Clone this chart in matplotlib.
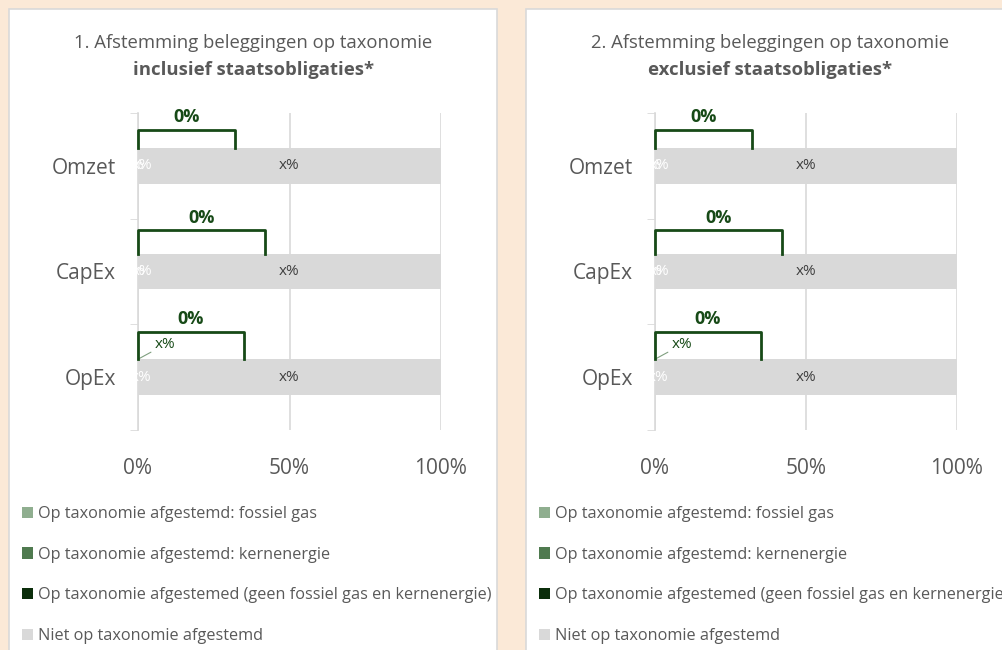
import matplotlib.pyplot as plt
from matplotlib.patches import Rectangle

# Data (values are placeholders "x%" in the source)
categories = ['Omzet', 'CapEx', 'OpEx']
fossil_gas = [0, 0, 0]
nuclear = [0, 0, 0]
aligned = [0, 0, 0]
not_aligned = [100, 100, 100]
bracket_labels = ['0%', '0%', '0%']
bracket_span = [32, 42, 35]
value_text = 'x%'
series_names = ['Op taxonomie afgestemd: fossiel gas',
                'Op taxonomie afgestemd: kernenergie',
                'Op taxonomie afgestemed (geen fossiel gas en kernenergie)',
                'Niet op taxonomie afgestemd']
titles = [('1. Afstemming beleggingen op taxonomie', 'inclusief staatsobligaties*'),
          ('2. Afstemming beleggingen op taxonomie', 'exclusief staatsobligaties*')]
xticks = [0, 50, 100]
xticklabels = ['0%', '50%', '100%']

colors = ['#8fae8f', '#4f7a4f', '#0b2e0b', '#d9d9d9']
bracket_color = '#174a17'
text_gray = '#595959'

plt.rcParams['font.family'] = ['Open Sans', 'DejaVu Sans']

W, H = 1003, 650
fig = plt.figure(figsize=(W / 100, H / 100), dpi=100)
fig.patch.set_facecolor('#fbe9d7')


def fx(px):
    return px / W


def fy(py):
    return 1 - py / H


# panel boxes: box left/right px, axis 0% / 100% px
panels = [(9, 497, 138, 441), (526, 1020, 655, 957)]
bar_h = 0.34
lift = [0.17, 0.22, 0.26]

for p, (bl, br, al, ar) in enumerate(panels):
    fig.patches.append(Rectangle((fx(bl), fy(660)), fx(br - bl), (660 - 9) / H,
                                 transform=fig.transFigure, facecolor='white',
                                 edgecolor='#d9d9d9', linewidth=1.2, zorder=-5))
    t1, t2 = titles[p]
    cx = fx((al + ar) / 2 - 36)
    fig.text(cx, fy(43), t1, ha='center', va='center', fontsize=13.3, color=text_gray)
    fig.text(cx, fy(70), t2, ha='center', va='center', fontsize=13.3, color=text_gray,
             fontweight='bold')

    ax = fig.add_axes([fx(al), fy(430), fx(ar - al), (430 - 113) / H])
    ax.set_facecolor('none')
    y = list(range(len(categories)))
    left = [0] * len(categories)
    handles = []
    for vals, col, name in zip([fossil_gas, nuclear, aligned, not_aligned], colors, series_names):
        b = ax.barh(y, vals, left=left, height=bar_h, color=col, label=name, zorder=2)
        handles.append(b)
        for i in y:
            xc = left[i] + vals[i] / 2
            if vals[i] > 0:
                ax.text(xc, i, value_text, ha='center', va='center', fontsize=11,
                        color='#404040', zorder=4)
        left = [a + v for a, v in zip(left, vals)]

    # labels of the zero-width segments, drawn in white at the bar start
    for i in y:
        offs = [-3, 3] if i == 0 else ([-2, 3] if i == 1 else [2])
        for o in offs:
            ax.annotate(value_text, (0, i), xytext=(o, 0), textcoords='offset points',
                        ha='center', va='center', fontsize=11, color='white', zorder=4)
    # moved label for OpEx with leader line
    ax.annotate(value_text, (0, 2 - bar_h / 2), xytext=(9, 1.69), ha='center', va='center',
                fontsize=11, color=bracket_color, zorder=4,
                arrowprops=dict(arrowstyle='-', color='#7f9f7f', lw=0.8, shrinkA=1, shrinkB=0))

    # brackets
    for i in y:
        top = i - bar_h / 2
        yb = top - lift[i]
        ax.plot([0, 0, bracket_span[i], bracket_span[i]], [top, yb, yb, top],
                color=bracket_color, lw=2, solid_joinstyle='round', zorder=5,
                clip_on=False)
        ax.text(bracket_span[i] / 2, yb - 0.12, bracket_labels[i], ha='center',
                va='center', fontsize=13, fontweight='bold', color=bracket_color)

    ax.set_xlim(0, 100)
    ax.set_ylim(len(categories) - 0.5, -0.5)
    ax.set_xticks(xticks)
    ax.set_xticklabels(xticklabels, fontsize=15, color=text_gray)
    ax.set_yticks(y)
    ax.set_yticklabels(categories, fontsize=15, color=text_gray)
    ax.set_yticks([-0.5, 0.5, 1.5, 2.5], minor=True)
    ax.tick_params(axis='y', which='major', length=0, pad=16)
    ax.tick_params(axis='y', which='minor', length=6, color='#d9d9d9')
    ax.tick_params(axis='x', length=0, pad=20)
    ax.grid(axis='x', color='#d9d9d9', lw=1.2, zorder=1)
    for s in ['top', 'right', 'bottom']:
        ax.spines[s].set_visible(False)
    ax.spines['left'].set_color('#d9d9d9')
    ax.spines['left'].set_linewidth(1.2)

    ax.legend(handles=handles, loc='upper left',
              bbox_to_anchor=(fx(bl + 13), fy(506)), bbox_transform=fig.transFigure,
              frameon=False, fontsize=11.7, labelcolor=text_gray, handlelength=0.68,
              handleheight=0.68, handletextpad=0.3, labelspacing=1.52, borderpad=0,
              borderaxespad=0)

fig.savefig('out.png', dpi=100, facecolor=fig.get_facecolor())
